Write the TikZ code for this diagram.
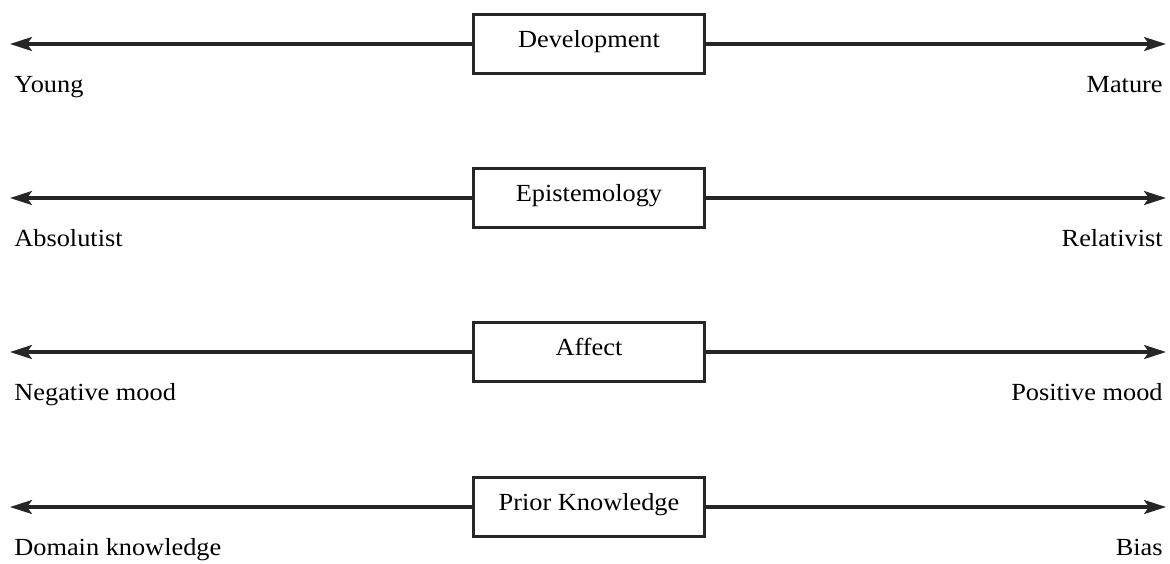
\documentclass[tikz,border=0pt]{standalone}
\usepackage{fontspec}
\setmainfont{Liberation Serif}
\newfontfamily\labfont{Liberation Serif}[FakeStretch=1.07]
\usetikzlibrary{arrows.meta}
\begin{document}
\begin{tikzpicture}[x=0.5pt,y=-0.5pt,
  scalebox/.style={draw=black!85,line width=1.1pt,fill=white,minimum width=115.5pt,minimum height=29.5pt,inner sep=0pt},
  boxtext/.style={anchor=base,font=\labfont\fontsize{12.3}{15}\selectfont,text=black,inner sep=0pt},
  endlabel/.style={font=\labfont\fontsize{12.3}{15}\selectfont,text=black,inner sep=0pt},
  axis/.style={line width=1.6pt,draw=black!85,-{Stealth[length=11pt,width=7pt,inset=2.5pt]}}]
\useasboundingbox (0,0) rectangle (1170,563);
\foreach \i/\y in {1/44,2/198,3/352,4/507}{
  \node[scalebox] (b\i) at (589,\y) {};
  \coordinate (l\i) at (10,\y);
  \coordinate (r\i) at (1166,\y);
  \draw[axis] (b\i.west) -- (l\i);
  \draw[axis] (b\i.east) -- (r\i);
}
\foreach \i/\y/\t/\l/\r in {1/44/Development/Young/Mature,
                            2/198/Epistemology/Absolutist/Relativist,
                            3/352/Affect/Negative mood/Positive mood,
                            4/507/Prior Knowledge/Domain knowledge/Bias}{
  \node[boxtext] (t\i) at (589,\y+3) {\t};
  \node[endlabel,anchor=base west] (ll\i) at (14,\y+48) {\l};
  \node[endlabel,anchor=base east] (rl\i) at (1163,\y+48) {\r};
}
\end{tikzpicture}
\end{document}
